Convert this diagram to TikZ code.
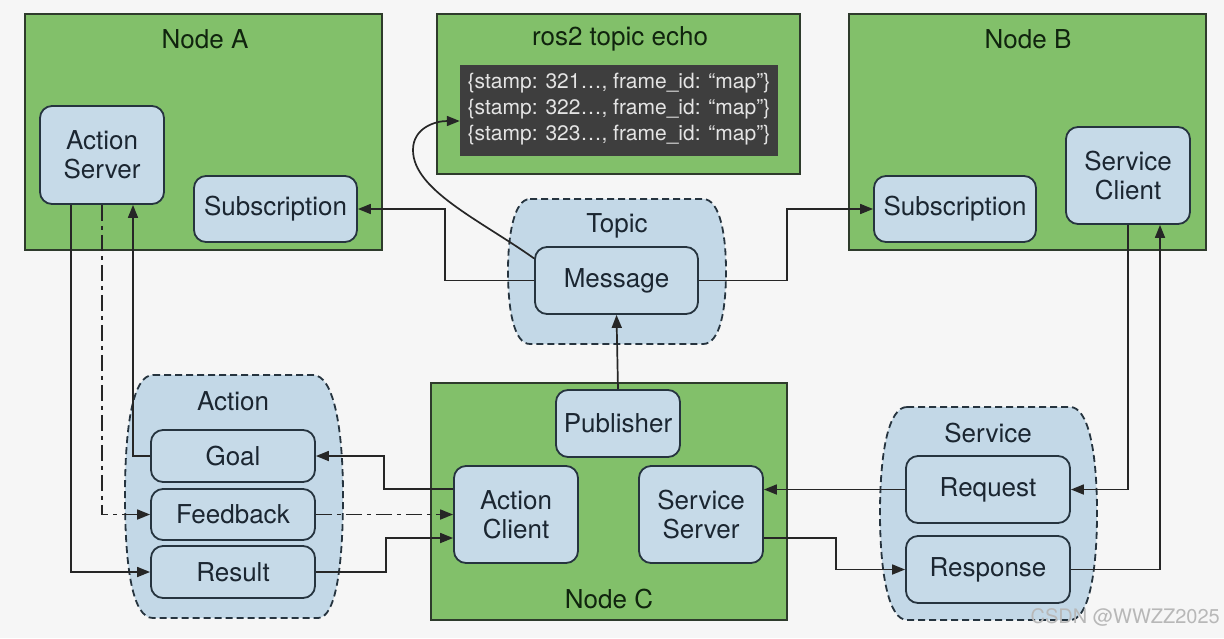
\documentclass[tikz,border=0pt]{standalone}
\usepackage{fontspec}
\setmainfont{TeX Gyre Heros}
\usetikzlibrary{arrows.meta,calc}
\definecolor{bgc}{HTML}{F6F6F6}
\definecolor{greenf}{HTML}{82C06A}
\definecolor{greend}{HTML}{2E3B2C}
\definecolor{bluef}{HTML}{C6DAE8}
\definecolor{cloudf}{HTML}{C3D8E7}
\definecolor{blued}{HTML}{26343F}
\definecolor{txt}{HTML}{1B2631}
\definecolor{titlec}{HTML}{10240E}
\definecolor{darkbox}{HTML}{3E3E3E}
\definecolor{codetxt}{HTML}{E4E4E4}
\definecolor{wm}{HTML}{B8B8B8}
\tikzset{
  greenbox/.style={draw=greend, line width=1.8pt, fill=greenf, rectangle, inner sep=0pt},
  roundbox/.style={draw=blued, line width=1.8pt, fill=bluef, rounded corners=12pt, inner sep=0pt,
    align=center, text=txt, font=\fontsize{26}{29.5}\selectfont},
  titletext/.style={text=titlec, font=\fontsize{26}{29}\selectfont, inner sep=0pt},
  cloudtitle/.style={text=txt, font=\fontsize{26}{29}\selectfont, inner sep=0pt},
  cloudpath/.style={draw=blued, line width=1.8pt, fill=cloudf, dash pattern=on 7pt off 4pt},
  conn/.style={draw=black!85, line width=1.7pt},
  arr/.style={conn, -{Triangle[length=13pt,width=10pt]}},
  dashdot/.style={dash pattern=on 16pt off 5pt on 4pt off 5pt}
}
\begin{document}
\begin{tikzpicture}[x=1pt,y=-1pt]
\useasboundingbox[fill=bgc] (0,0) rectangle (1224,638);

% ---------- Node A ----------
\node[greenbox, minimum width=357pt, minimum height=236pt] (nodeA) at (203.5,132) {};
\node[titletext] (nodeAt) at (205,39) {Node A};
\node[roundbox, minimum width=124pt, minimum height=98pt] (AS) at (102,155) {Action\\Server};
\node[roundbox, minimum width=163pt, minimum height=66pt] (SubA) at (275.5,209) {Subscription};

% ---------- ros2 topic echo ----------
\node[greenbox, minimum width=363pt, minimum height=160pt] (echo) at (618.5,94) {};
\node[titletext] (echot) at (620,39) {ros2 topic echo};
\node[fill=darkbox, minimum width=318pt, minimum height=91pt, inner sep=0pt] (dark) at (619,110.5) {};
\node[text=codetxt, align=left, font=\fontsize{21}{26}\selectfont, inner sep=0pt] (code) at (619,109)
  {\{stamp: 321…, frame\_id: “map”\}\\\{stamp: 322…, frame\_id: “map”\}\\\{stamp: 323…, frame\_id: “map”\}};

% ---------- Node B ----------
\node[greenbox, minimum width=357pt, minimum height=236pt] (nodeB) at (1027.5,132) {};
\node[titletext] (nodeBt) at (1028,39) {Node B};
\node[roundbox, minimum width=162pt, minimum height=66pt] (SubB) at (955,209) {Subscription};
\node[roundbox, minimum width=124pt, minimum height=97pt] (SC) at (1128,175.5) {Service\\Client};

% ---------- Topic ----------
\path[cloudpath] (530,199) -- (703,199) .. controls (720,199) and (726,235) .. (726,271)
  .. controls (726,310) and (720,344) .. (703,344) -- (530,344)
  .. controls (514,344) and (508,310) .. (508,271) .. controls (508,235) and (514,199) .. cycle;
\node[cloudtitle] (topict) at (617,226) {Topic};
\node[roundbox, minimum width=163pt, minimum height=67pt] (Msg) at (616.5,280.5) {Message};

% ---------- Node C ----------
\node[greenbox, minimum width=356pt, minimum height=237pt] (nodeC) at (609,501.5) {};
\node[titletext] (nodeCt) at (609,599) {Node C};
\node[roundbox, minimum width=124pt, minimum height=67pt] (Pub) at (618,423.5) {Publisher};
\node[roundbox, minimum width=124pt, minimum height=97pt] (AC) at (516,514.5) {Action\\Client};
\node[roundbox, minimum width=124pt, minimum height=97pt] (SS) at (701,514.5) {Service\\Server};

% ---------- Action ----------
\path[cloudpath] (153,375) -- (313,375) .. controls (333,375) and (343,425) .. (343,496)
  .. controls (343,570) and (335,618) .. (318,618) -- (153,618)
  .. controls (133,618) and (125,570) .. (125,496) .. controls (125,425) and (133,375) .. cycle;
\node[cloudtitle] (actiont) at (233,401) {Action};
\node[roundbox, minimum width=164pt, minimum height=52pt] (Goal) at (233,456) {Goal};
\node[roundbox, minimum width=164pt, minimum height=51pt] (Feed) at (233,514.5) {Feedback};
\node[roundbox, minimum width=164pt, minimum height=52pt] (Res) at (233,572) {Result};

% ---------- Service ----------
\path[cloudpath] (907,407) -- (1070,407) .. controls (1088,407) and (1097,450) .. (1097,513)
  .. controls (1097,575) and (1088,620) .. (1070,620) -- (907,620)
  .. controls (889,620) and (880,575) .. (880,513) .. controls (880,450) and (889,407) .. cycle;
\node[cloudtitle] (servicet) at (988,433) {Service};
\node[roundbox, minimum width=164pt, minimum height=67pt] (Req) at (988,489.5) {Request};
\node[roundbox, minimum width=164pt, minimum height=67pt] (Resp) at (988,569.5) {Response};

% ---------- connectors ----------
\draw[arr] (Msg.west) -- ++(-89,0) |- (SubA.east);
\draw[arr] (Msg.east) -- ++(88,0) |- (SubB.west);
\draw[arr] (Msg.165) .. controls (480,220) and (413,190) .. (413,150) .. controls (413,128) and (435,121) .. (dark.west |- 0,121);
\draw[arr] (Pub.north) -- (Msg.south);

\draw[arr] ($(AS.south)+(-31,0)$) |- (Res.west);
\draw[arr, dashdot] (AS.south) |- (Feed.west);
\draw[arr] (Goal.west) -| ($(AS.south)+(31,0)$);

\draw[arr] ($(AC.west)+(0,-25.5)$) -- ++(-69,0) |- (Goal.east);
\draw[arr, dashdot] (Feed.east) -- (AC.west);
\draw[arr] (Res.east) -- ++(70,0) |- ($(AC.west)+(0,23.5)$);

\draw[arr] (Req.west) -- (Req.west -| SS.east);
\draw[arr] ($(SS.east)+(0,23.5)$) -- ++(72,0) |- (Resp.west);
\draw[arr] (SC.south) |- (Req.east);
\draw[arr] (Resp.east) -| ($(SC.south)+(32,0)$);

% ---------- watermark ----------
\node[text=wm, font=\fontsize{20}{24}\selectfont, inner sep=0pt, anchor=east] (wmark) at (1220,617) {CSDN @WWZZ2025};
\end{tikzpicture}
\end{document}
